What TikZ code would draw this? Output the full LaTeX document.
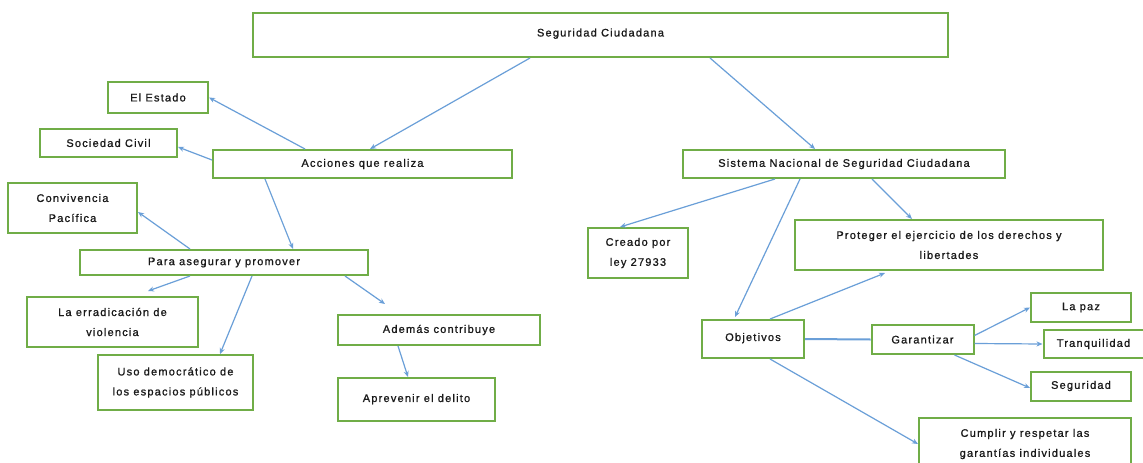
\documentclass[tikz,border=0pt]{standalone}
\usepackage{fontspec}
\newfontfamily\lblfont[LetterSpace=11,FakeBold=1]{Liberation Sans}
\usetikzlibrary{arrows.meta,calc}
\definecolor{boxgreen}{HTML}{70AD47}
\definecolor{linkblue}{HTML}{6A9FD8}
\definecolor{txt}{HTML}{1A1A1A}
\tikzset{
  box/.style={draw=boxgreen, line width=2pt, fill=white, inner sep=0pt, align=center,
    font=\lblfont\fontsize{11}{20}\selectfont, text=txt},
  link/.style={draw=linkblue, line width=1.2pt, -{Stealth[length=6pt,width=5pt]}},
  plain/.style={draw=linkblue, line width=2pt}
}
\begin{document}
\begin{tikzpicture}[x=1pt,y=-1pt]
\useasboundingbox (0,0) rectangle (1143,463);
\fill[white] (0,0) rectangle (1143,463);
\begin{scope}
\clip (0,0) rectangle (1143,463);
\node[box, minimum width=695pt, minimum height=44pt] (seg) at (600.5,35) {\raisebox{5pt}{Seguridad Ciudadana}};
\node[box, minimum width=100pt, minimum height=31pt] (estado) at (158,97.5) {El Estado};
\node[box, minimum width=137pt, minimum height=28pt] (soc) at (108.5,143) {Sociedad Civil};
\node[box, minimum width=299pt, minimum height=28pt] (acc) at (362.5,164) {Acciones que realiza};
\node[box, minimum width=322pt, minimum height=28pt] (sis) at (844,164) {Sistema Nacional de Seguridad Ciudadana};
\node[box, minimum width=129pt, minimum height=50pt] (conv) at (72.5,208) {Convivencia\\Pacífica};
\node[box, minimum width=288pt, minimum height=25pt] (para) at (224,262.5) {Para asegurar y promover};
\node[box, minimum width=100pt, minimum height=50pt] (creado) at (638,253) {Creado por\\ley 27933};
\node[box, minimum width=308pt, minimum height=50pt] (prot) at (949,245) {Proteger el ejercicio de los derechos y\\libertades};
\node[box, minimum width=171pt, minimum height=50pt] (errad) at (112.5,322) {La erradicación de\\violencia};
\node[box, minimum width=202pt, minimum height=30pt] (ademas) at (439,330) {Además contribuye};
\node[box, minimum width=155pt, minimum height=55pt] (uso) at (175.5,382.5) {Uso democrático de\\los espacios públicos};
\node[box, minimum width=157pt, minimum height=43pt] (aprev) at (416.5,399.5) {\raisebox{3pt}{Aprevenir el delito}};
\node[box, minimum width=100pt, minimum height=29pt] (paz) at (1081,307.5) {La paz};
\node[box, minimum width=102pt, minimum height=38pt] (obj) at (753,339) {\raisebox{4pt}{Objetivos}};
\node[box, minimum width=102pt, minimum height=29pt] (gar) at (922.5,339.5) {Garantizar};
\node[box, minimum width=100pt, minimum height=28pt] (tranq) at (1093.5,344) {Tranquilidad};
\node[box, minimum width=100pt, minimum height=29pt] (segu) at (1081,386) {Seguridad};
\node[box, minimum width=212pt, minimum height=52pt] (cump) at (1025,444) {Cumplir y respetar las\\garantías individuales};

\draw[link] ([xshift=-70.5pt]seg.south) -- ([xshift=7.5pt]acc.north);
\draw[link] ([xshift=109.5pt]seg.south) -- ([xshift=-29pt]sis.north);
\draw[link] ([xshift=-57.5pt]acc.north) -- (estado.east);
\draw[link] ([yshift=4pt]acc.west) -- ([yshift=-4pt]soc.east);
\draw[link] ([xshift=-97.5pt]acc.south) -- ([xshift=69pt]para.north);
\draw[link] ([xshift=-34pt]para.north) -- ([yshift=-4pt]conv.east);
\draw[link] ([xshift=-34pt]para.south) -- ([xshift=35.5pt,yshift=5pt]errad.north);
\draw[link] ([xshift=28pt]para.south) -- ([xshift=44.5pt]uso.north);
\draw[link] ([xshift=121pt]para.south) -- ([xshift=-54pt,yshift=10pt]ademas.north);
\draw[link] ([xshift=-41pt]ademas.south) -- ([xshift=-8.5pt]aprev.north);
\draw[link] ([xshift=-69pt]sis.south) -- ([xshift=-18pt]creado.north);
\draw[link] ([xshift=-44pt]sis.south) -- ([xshift=-18pt,yshift=2pt]obj.north);
\draw[link] ([xshift=28pt]sis.south) -- ([xshift=-37pt]prot.north);
\draw[link] ([xshift=17pt]obj.north) -- ([xshift=-64pt,yshift=-2pt]prot.south);
\draw[plain] (obj.east) -- (gar.west);
\draw[link] ([yshift=4pt]gar.east) -- (paz.west);
\draw[link] ([yshift=-4pt]gar.east) -- (tranq.west);
\draw[link] ([xshift=32pt]gar.south) -- ([yshift=-2pt]segu.west);
\draw[link] ([xshift=17pt]obj.south) -- (cump.west);
\end{scope}
\end{tikzpicture}
\end{document}
